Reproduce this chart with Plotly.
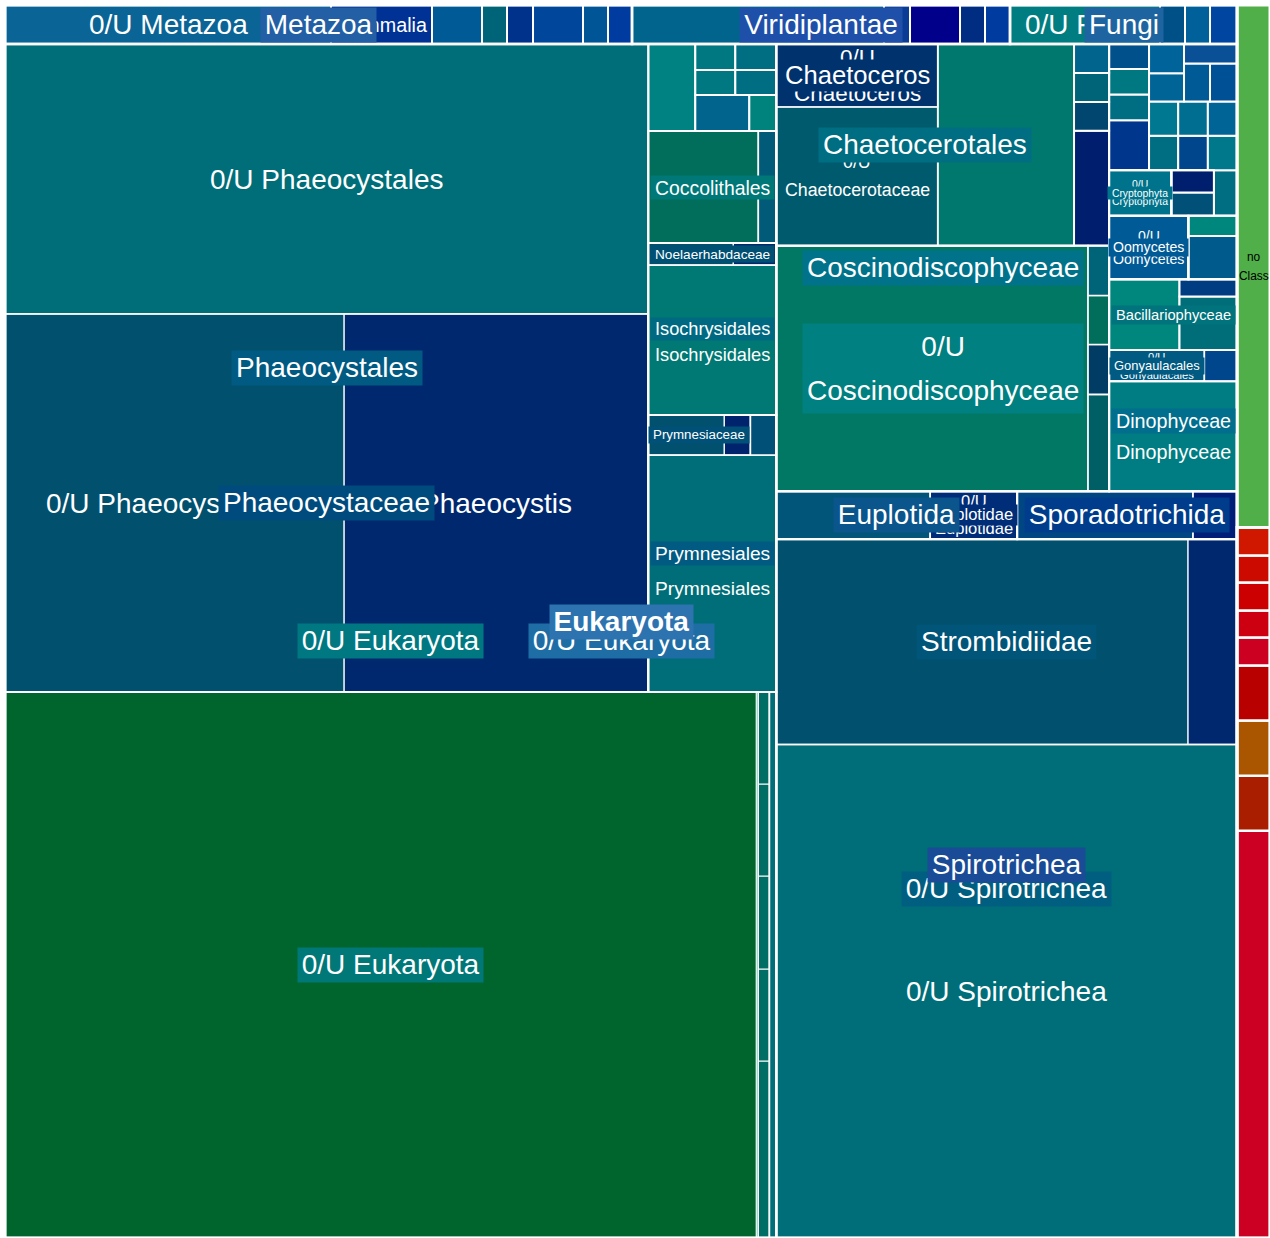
import plotly.graph_objects as go

# ---------------- data: taxonomy tree (leaf values = abundance) ----------------
node_ids = [
    "euk", "bact", "nocls",
    "k0", "metaz", "virid", "fungi",
    "r9", "r8", "r7", "r6", "r5", "r4", "r3", "r2", "r1",
    "p0", "spiro", "cosc", "dino", "bacil", "oomy", "grp1", "crypt", "grp2", "c3",
    "t1", "t2", "t3", "t4", "t5", "t6", "t7", "t8", "t9", "t10", "t11", "t12", "t13", "t14", "t15",
    "mz0", "mam", "mz3", "mzb", "mz5", "mzd", "mzb1", "mzb2", "mzd1", "mzd2",
    "vr1", "vr2", "vr3", "vr1a", "vr1b", "vr3a", "vr3b",
    "fu0", "fu2", "fu3", "fu4",
    "cg", "phaeo", "prym", "iso", "cocco", "a1", "a2", "a3", "a4", "a5", "a6", "a7",
    "oa", "ob", "fa", "fx", "big", "thin", "fx1", "fx2", "fx3", "fx4", "fx5",
    "phcy", "phou", "ph0", "phis",
    "pr0", "prc", "pr3", "pc1", "pc2",
    "iso0", "noel", "n1", "n2",
    "cc1", "cc2",
    "o0", "eupl", "spor", "f0", "strom", "s1", "s2", "eu1", "euid", "eu0", "sp1", "sp2",
    "oc", "chtl", "cx1", "cx2", "cx3", "cx4", "oc1", "oc2", "oc3", "oc4", "oc5",
    "chcy", "ch2", "chc0", "chs", "chs0",
    "od", "gony", "gf", "gx", "gf0",
    "b1", "b2", "b3",
    "oo0", "g1a", "g1b", "cr0", "g2a", "g2b",
]

node_parents = [
    "", "", "",
    "euk", "euk", "euk", "euk",
    "bact", "bact", "bact", "bact", "bact", "bact", "bact", "bact", "bact",
    "k0", "k0", "k0", "k0", "k0", "k0", "k0", "k0", "k0", "k0",
    "k0", "k0", "k0", "k0", "k0", "k0", "k0", "k0", "k0", "k0", "k0", "k0", "k0", "k0", "k0",
    "metaz", "metaz", "metaz", "metaz", "metaz", "metaz", "mzb", "mzb", "mzd", "mzd",
    "virid", "virid", "virid", "vr1", "vr1", "vr3", "vr3",
    "fungi", "fungi", "fungi", "fungi",
    "p0", "p0", "p0", "p0", "p0", "p0", "p0", "p0", "p0", "p0", "p0", "p0",
    "cg", "cg", "oa", "oa", "fa", "fa", "fx", "fx", "fx", "fx", "fx",
    "phaeo", "phaeo", "phcy", "phcy",
    "prym", "prym", "prym", "prc", "prc",
    "iso", "iso", "noel", "noel",
    "cocco", "cocco",
    "spiro", "spiro", "spiro", "o0", "o0", "strom", "strom", "eupl", "eupl", "euid", "spor", "spor",
    "cosc", "cosc", "cosc", "cosc", "cosc", "cosc", "oc", "oc", "oc", "oc", "oc",
    "chtl", "chtl", "chcy", "chcy", "chs",
    "dino", "dino", "gony", "gony", "gf",
    "bacil", "bacil", "bacil",
    "oomy", "grp1", "grp1", "crypt", "grp2", "grp2",
]

node_labels = [
    "Eukaryota", "", "no Class",
    "0/U Eukaryota", "Metazoa", "Viridiplantae", "Fungi",
    "", "", "", "", "", "", "", "", "",
    "0/U Eukaryota", "Spirotrichea", "Coscinodiscophyceae", "Dinophyceae", "Bacillariophyceae",
    "Oomycetes", "", "Cryptophyta", "", "",
    "", "", "", "", "", "", "", "", "", "", "", "", "", "", "",
    "0/U Metazoa", "Mammalia", "", "", "", "", "", "", "", "",
    "", "", "", "", "", "", "",
    "0/U Fungi", "", "", "",
    "0/U Eukaryota", "Phaeocystales", "Prymnesiales", "Isochrysidales", "Coccolithales",
    "", "", "", "", "", "", "",
    "", "", "", "", "", "", "", "", "", "", "",
    "Phaeocystaceae", "0/U Phaeocystales", "0/U Phaeocystaceae", "Phaeocystis",
    "0/U Prymnesiales", "Prymnesiaceae", "", "", "",
    "0/U Isochrysidales", "Noelaerhabdaceae", "", "",
    "", "",
    "0/U Spirotrichea", "Euplotida", "Sporadotrichida", "0/U Spirotrichea", "Strombidiidae",
    "", "", "", "Euplotidae", "0/U Euplotidae", "", "",
    "0/U Coscinodiscophyceae", "Chaetocerotales", "", "", "", "", "", "", "", "", "",
    "", "", "0/U Chaetocerotaceae", "Chaetoceros", "0/U Chaetoceros",
    "0/U Dinophyceae", "", "Gonyaulacales", "", "0/U Gonyaulacales",
    "", "", "",
    "0/U Oomycetes", "", "", "0/U Cryptophyta", "", "",
]

node_values = [
    0, 0, 17226,
    0, 0, 0, 0,
    13431, 1815, 1815, 1815, 924, 891, 924, 891, 924,
    0, 0, 0, 0, 0, 0, 0, 0, 0, 1050,
    2000, 1020, 1020, 1000, 1003, 1020, 1003, 1003, 1020, 1003, 986, 1020, 988, 1026, 1026,
    12714, 3939, 1950, 0, 1950, 0, 975, 1014, 975, 936,
    0, 1950, 0, 9828, 1014, 975, 975,
    5850, 975, 975, 1053,
    0, 0, 0, 0, 0, 4089, 1944, 972, 1000, 1040, 1025, 1066,
    0, 3822, 0, 0, 410046, 1092, 1947, 1012, 1023, 1012, 1012,
    0, 173610, 128142, 114912,
    30336, 0, 1040, 3040, 1040,
    19200, 0, 1870, 946,
    12320, 2016,
    0, 0, 0, 227273, 0, 84460, 10045, 7392, 0, 4176, 8448, 2112,
    0, 0, 4025, 1015, 1015, 1015, 76506, 2037, 1050, 1029, 1050,
    0, 27472, 22379, 0, 10143,
    14061, 0, 0, 1023, 2976,
    4970, 3074, 986,
    5040, 2107, 980, 2835, 989, 946,
]

node_colors = [
    "#2D73AF", "#C00018", "#50AF48",
    "#1E6EA5", "#235FA5", "#1E50AA", "#1E64A0",
    "#CC0022", "#AA1E00", "#AA5500", "#B90000", "#CC0020", "#CC0010", "#CC0000", "#CC0A00", "#D01800",
    "#007882", "#194B96", "#00738A", "#006E8C", "#00737D", "#005A96", "#006E8C", "#00738C", "#00466E", "#006E82",
    "#00378C", "#006E82", "#007882", "#00508C", "#006E82", "#00468C", "#00788C", "#007891", "#006E91",
    "#006496", "#006496", "#00649B", "#005A96", "#005096", "#0A5096",
    "#0A6496", "#003296", "#005A96", "#005078", "#00469B", "#004B9B", "#006478", "#00328C", "#005596", "#003CA0",
    "#00648C", "#00008B", "#003290", "#00648C", "#0A3C96", "#002D82", "#003CA0",
    "#007D80", "#005088", "#00609A", "#0046A0",
    "#007878", "#005A82", "#005A82", "#006982", "#007878",
    "#008282", "#00648C", "#00827D", "#007882", "#007882", "#006E82", "#006E82",
    "#006E64", "#006E78", "#006E64", "#006E64", "#00642D", "#008C78", "#006E64", "#006E64", "#006E64", "#006E64", "#006E64",
    "#004B7D", "#006E78", "#00506E", "#00286E",
    "#006E78", "#005078", "#005078", "#00506E", "#00236E",
    "#007873", "#005073", "#00506E", "#002A6E",
    "#006E5A", "#005A78",
    "#005F80", "#0A558C", "#003C8C", "#006E78", "#005578", "#00506E", "#00286E", "#005578", "#002D78", "#002D78",
    "#004682", "#001E78",
    "#008080", "#006E82", "#001E6E", "#00466E", "#006478", "#00648C", "#007864", "#005F64", "#003C64", "#006E5A", "#006478",
    "#005A6E", "#00786E", "#005A6E", "#00326E", "#00326E",
    "#007D82", "#005A82", "#005A82", "#00468C", "#005A82",
    "#00877D", "#006E78", "#003C82",
    "#005A96", "#005A8C", "#00877D", "#00738C", "#005078", "#001E6E",
]

assert len(node_ids) == len(node_parents) == len(node_labels) == len(node_values) == len(node_colors)

W, H = 1265, 1233
FONT = "Liberation Sans, Arial, sans-serif"

# ---------------- squarified layout (origin bottom-left) ----------------
def layoutrow(sizes, x, y, dx, dy):
    width = sum(sizes) / dy
    out = []
    for s in sizes:
        out.append((x, y, width, s / width))
        y += s / width
    return out


def layoutcol(sizes, x, y, dx, dy):
    height = sum(sizes) / dx
    out = []
    for s in sizes:
        out.append((x, y, s / height, height))
        x += s / height
    return out


def layout(sizes, x, y, dx, dy):
    return layoutrow(sizes, x, y, dx, dy) if dx >= dy else layoutcol(sizes, x, y, dx, dy)


def leftover(sizes, x, y, dx, dy):
    if dx >= dy:
        width = sum(sizes) / dy
        return x + width, y, dx - width, dy
    height = sum(sizes) / dx
    return x, y + height, dx, dy - height


def worst_ratio(sizes, x, y, dx, dy):
    return max(max(w / h, h / w) for _, _, w, h in layout(sizes, x, y, dx, dy))


def squarify(sizes, x, y, dx, dy):
    if not sizes:
        return []
    if len(sizes) == 1:
        return layout(sizes, x, y, dx, dy)
    i = 1
    while i < len(sizes) and worst_ratio(sizes[:i], x, y, dx, dy) >= worst_ratio(sizes[:i + 1], x, y, dx, dy):
        i += 1
    lx, ly, ldx, ldy = leftover(sizes[:i], x, y, dx, dy)
    return layout(sizes[:i], x, y, dx, dy) + squarify(sizes[i:], lx, ly, ldx, ldy)


children = {}
for nid, par in zip(node_ids, node_parents):
    children.setdefault(par, []).append(nid)
colour = dict(zip(node_ids, node_colors))
label = dict(zip(node_ids, node_labels))
own = dict(zip(node_ids, node_values))

total = {}


def tot(nid):
    if nid not in total:
        total[nid] = own[nid] + sum(tot(k) for k in children.get(nid, []))
    return total[nid]


rects, depth = {}, {}


def place(nid, box, d):
    if nid:
        rects[nid] = box
        depth[nid] = d
    kids = children.get(nid, [])
    if not kids:
        return
    x, y, dx, dy = box
    vals = [tot(k) for k in kids]
    s = sum(vals)
    sizes = [v * dx * dy / s for v in vals]
    for k, b in zip(kids, squarify(sizes, x, y, dx, dy)):
        place(k, b, d + 1)


place("", (0, 0, W, H), 0)

# ---------------- label sizing ----------------
_w = {" ": 278, "/": 278}
for c in "0123456789":
    _w[c] = 556
for c, v in zip("ABCDEFGHIJKLMNOPQRSTUVWXYZ",
                [667, 667, 722, 722, 667, 611, 778, 722, 278, 500, 667, 556, 833,
                 722, 778, 667, 778, 722, 667, 611, 722, 667, 944, 667, 667, 611]):
    _w[c] = v
for c, v in zip("abcdefghijklmnopqrstuvwxyz",
                [556, 556, 500, 556, 556, 278, 556, 556, 222, 222, 500, 222, 833,
                 556, 556, 556, 556, 333, 500, 278, 556, 500, 722, 500, 500, 500]):
    _w[c] = v


def em(t):
    return sum(_w.get(c, 556) for c in t) / 1000.0


def fit(text, w, h, k):
    f1 = min(28, 0.9 * w / (em(text) * k), 0.72 * h)
    if " " in text and f1 < 28:
        a, b = text.split(" ", 1)
        f2 = min(28, 0.9 * w / (max(em(a), em(b)) * k), h / 2.8)
        if f2 > f1:
            return [a, b], f2
    return [text], f1


def lum(hx):
    r, g, b = int(hx[1:3], 16), int(hx[3:5], 16), int(hx[5:7], 16)
    return 0.299 * r + 0.587 * g + 0.114 * b


def lw(d):
    return {1: 3, 2: 2.5, 3: 2, 4: 2, 5: 1.6, 6: 1.2}.get(d, 1)


fig = go.Figure()

shapes = []
leaves = [n for n in node_ids if n not in children]
parents_ = sorted([n for n in node_ids if n in children], key=lambda n: -depth[n])
for n in leaves:
    x, y, w, h = rects[n]
    shapes.append(dict(type="rect", xref="x", yref="y", x0=x, y0=y, x1=x + w, y1=y + h,
                       fillcolor=colour[n], line=dict(color="white", width=lw(depth[n]))))
for n in parents_:
    x, y, w, h = rects[n]
    shapes.append(dict(type="rect", xref="x", yref="y", x0=x, y0=y, x1=x + w, y1=y + h,
                       fillcolor="rgba(0,0,0,0)", line=dict(color="white", width=lw(depth[n]))))

annotations = []
for n in sorted([n for n in node_ids if label[n]], key=lambda n: -depth[n]):
    x, y, w, h = rects[n]
    cx, cy = x + w / 2, y + h / 2
    is_parent = n in children
    bold = depth[n] == 1 and is_parent
    k = 1.07 if bold else 1.0
    lines, f = fit(label[n], w, h, k)
    if f < 6:
        continue
    tcol = "black" if lum(colour[n]) > 120 else "white"
    step = 1.6 * f
    box_w = max(em(l) for l in lines) * f * k + 8
    for j, line in enumerate(lines):
        yy = cy + (len(lines) - 1) / 2 * step - j * step
        ann = dict(x=cx, y=yy, xref="x", yref="y", showarrow=False,
                   text="<b>%s</b>" % line if bold else line,
                   xanchor="center", yanchor="middle",
                   font=dict(family=FONT, size=f, color=tcol))
        if is_parent:
            ann.update(bgcolor=colour[n], borderpad=0, width=box_w,
                       height=step if len(lines) > 1 else 1.2 * f)
        annotations.append(ann)

fig.update_layout(
    width=1270, height=1238,
    margin=dict(l=5, r=0, t=5, b=0),
    paper_bgcolor="white", plot_bgcolor="white",
    xaxis=dict(range=[0, W], visible=False, fixedrange=True),
    yaxis=dict(range=[0, H], visible=False, fixedrange=True),
    shapes=shapes, annotations=annotations, showlegend=False,
)

fig.write_html("out.html", config={"displayModeBar": False},
               post_script="document.body.style.margin='0px';document.documentElement.style.overflow='hidden';")
